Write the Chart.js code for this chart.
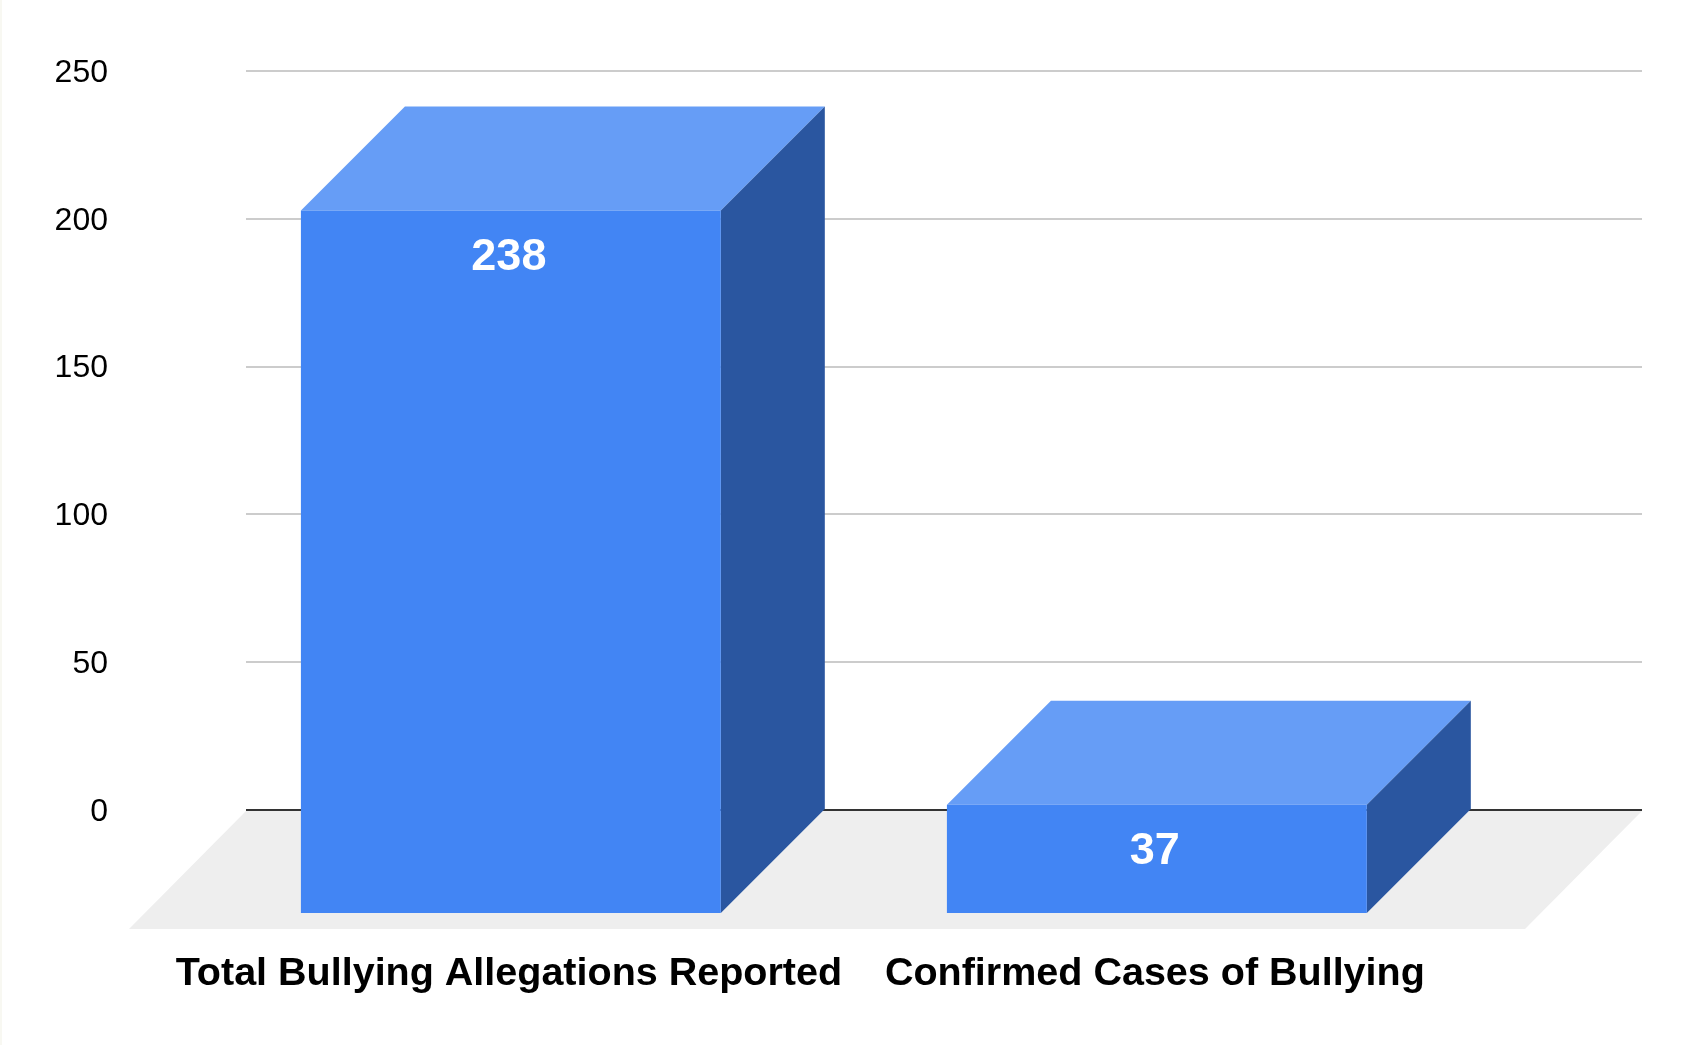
<!DOCTYPE html>
<html>
<head>
<meta charset="utf-8">
<title>Bullying allegations</title>
<script src="https://cdn.jsdelivr.net/npm/chart.js@4"></script>
<style>
  html, body { margin: 0; padding: 0; background: #fff; overflow: hidden; }
  #edge { position: absolute; left: 0; top: 0; width: 2px; height: 1045px; background: #f8f8f2; }
  canvas { position: absolute; left: 0; top: 0; }
</style>
</head>
<body>
<canvas id="chart" width="1693" height="1045"></canvas>
<div id="edge"></div>
<script>
const categories = ["Total Bullying Allegations Reported", "Confirmed Cases of Bullying"];
const allegations = [238, 37];
const axisMin = 0;
const axisMax = 250;
const axisStep = 50;

const COLOR_FRONT = "#4285f4";
const COLOR_TOP = "#669df6";
const COLOR_SIDE = "#2a56a0";
const COLOR_FLOOR = "#eeeeee";
const FONT = "'Liberation Sans', Arial, sans-serif";

// depth of the fake 3D box, in pixels
const BOX_DX = 104;
const BOX_DY = 104;
const FLOOR_DX = 117;
const FLOOR_DY = 119;

function poly(ctx, color, pts) {
  ctx.fillStyle = color;
  ctx.beginPath();
  pts.forEach((p, i) => (i ? ctx.lineTo(p[0], p[1]) : ctx.moveTo(p[0], p[1])));
  ctx.closePath();
  ctx.fill();
}

// The bars are placed on the back wall by the scales. Top and side faces are
// added here and the real bar is then shifted forward to act as the front face.
const box3d = {
  id: "box3d",
  beforeDatasetsDraw(chart) {
    const { ctx, chartArea: a } = chart;
    poly(ctx, COLOR_FLOOR, [
      [a.left, a.bottom + 1],
      [a.right, a.bottom + 1],
      [a.right - FLOOR_DX, a.bottom + FLOOR_DY],
      [a.left - FLOOR_DX, a.bottom + FLOOR_DY]
    ]);
  },
  beforeDatasetDraw(chart, args) {
    const { ctx } = chart;
    chart.getDatasetMeta(args.index).data.forEach(bar => {
      const left = bar.x - bar.width / 2;
      const right = bar.x + bar.width / 2;
      poly(ctx, COLOR_TOP, [
        [left, bar.y], [right, bar.y],
        [right - BOX_DX, bar.y + BOX_DY], [left - BOX_DX, bar.y + BOX_DY]
      ]);
      poly(ctx, COLOR_SIDE, [
        [right, bar.y], [right, bar.base],
        [right - BOX_DX, bar.base + BOX_DY], [right - BOX_DX, bar.y + BOX_DY]
      ]);
    });
    ctx.save();
    ctx.translate(-BOX_DX, BOX_DY);
  },
  afterDatasetDraw(chart) {
    chart.ctx.restore();
  },
  afterDraw(chart) {
    const { ctx } = chart;
    ctx.save();
    ctx.fillStyle = "#ffffff";
    ctx.font = "bold 45px " + FONT;
    ctx.textAlign = "center";
    ctx.textBaseline = "middle";
    chart.getDatasetMeta(0).data.forEach((bar, i) => {
      ctx.fillText(String(allegations[i]), bar.x - BOX_DX - 2, bar.y + BOX_DY + 47);
    });
    ctx.restore();
  }
};

new Chart(document.getElementById("chart"), {
  type: "bar",
  data: {
    datasets: [{
      data: allegations.map((v, i) => ({ x: i, y: v })),
      backgroundColor: COLOR_FRONT,
      borderWidth: 0,
      barPercentage: 0.65,
      categoryPercentage: 1,
      clip: false
    }]
  },
  plugins: [box3d],
  options: {
    responsive: false,
    animation: false,
    layout: { padding: { top: 71, right: 51, bottom: 0, left: 0 } },
    plugins: { legend: { display: false }, tooltip: { enabled: false } },
    scales: {
      x: {
        type: "linear",
        offset: false,   // the bar chart default would widen the range
        min: -0.571,
        max: 1.59,
        grid: { display: false },
        border: { display: false },
        afterBuildTicks(scale) {
          scale.ticks = categories.map((_, i) => ({ value: i }));
        },
        afterFit(scale) {
          scale.height = 235;
          scale.paddingLeft = 0;
          scale.paddingRight = 0;
        },
        ticks: {
          autoSkip: false,
          maxRotation: 0,
          labelOffset: -BOX_DX - 2,
          padding: 132,
          color: "#000000",
          font: { family: FONT, size: 39.5, weight: "bold" },
          callback: v => categories[v]
        }
      },
      y: {
        min: axisMin,
        max: axisMax,
        afterFit(scale) {
          scale.width = 246;
          // tick padding also counts as vertical padding, which would push the top down
          scale.paddingTop = 0;
          scale.paddingBottom = 0;
        },
        border: { display: false },
        grid: {
          drawTicks: false,
          lineWidth: 2,
          color: ctx => (ctx.tick.value === 0 ? "#333333" : "#cccccc")
        },
        ticks: {
          stepSize: axisStep,
          padding: 138,
          labelOffset: 2,
          color: "#000000",
          font: { family: FONT, size: 32 }
        }
      }
    }
  }
});
</script>
</body>
</html>
